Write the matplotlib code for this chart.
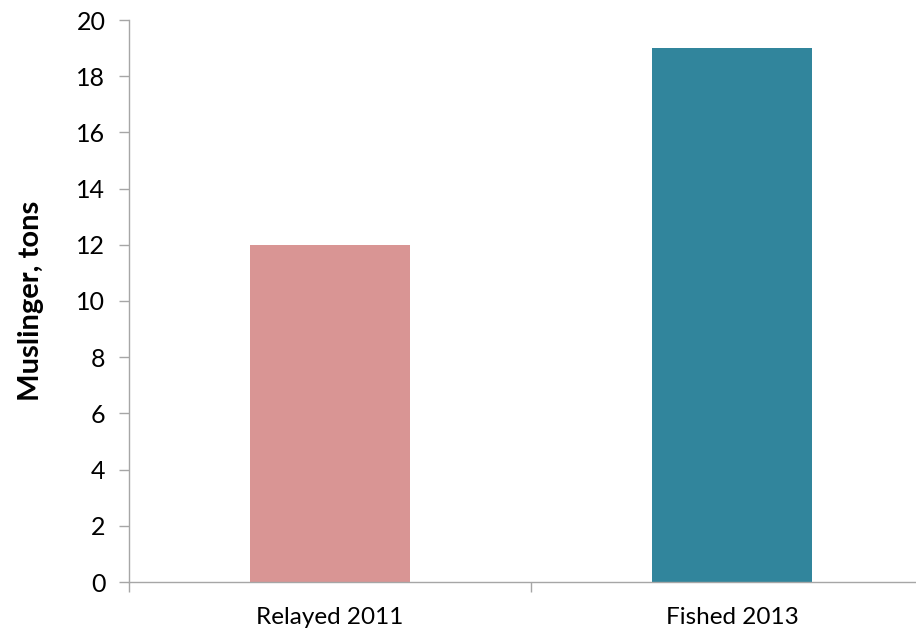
import matplotlib.pyplot as plt
import numpy as np

plt.rcParams["font.family"] = ["Lato", "DejaVu Sans"]

categories = ["Relayed 2011", "Fished 2013"]
values = [12, 19]
colours = ["#D99594", "#31859C"]

axis_grey = "#A6A6A6"

fig = plt.figure(figsize=(9.16, 6.31), dpi=100)
ax = fig.add_axes([129 / 916, 49 / 631, 804 / 916, 562 / 631])

x = np.arange(len(categories))
ax.bar(x, values, width=0.4, color=colours, zorder=2)

ax.set_xlim(-0.5, 1.5)
ax.set_ylim(0, 20)
ax.set_yticks(np.arange(0, 21, 2))

# category labels centred, tick marks between categories
ax.set_xticks(x)
ax.set_xticklabels(categories)
ax.set_xticks([-0.5, 0.5, 1.5], minor=True)
ax.tick_params(axis="x", which="major", length=0, pad=18, labelsize=17.5)
ax.tick_params(axis="x", which="minor", length=7, width=1, color=axis_grey)
ax.tick_params(axis="y", length=7, width=1, color=axis_grey, labelsize=18, pad=10)

for side in ("top", "right"):
    ax.spines[side].set_visible(False)
for side in ("left", "bottom"):
    ax.spines[side].set_color(axis_grey)
    ax.spines[side].set_linewidth(1)

ax.set_ylabel("Muslinger, tons", fontsize=21, fontweight="bold")
ax.yaxis.set_label_coords(-85 / 804, 0.5)

plt.savefig("out.png", dpi=100)
